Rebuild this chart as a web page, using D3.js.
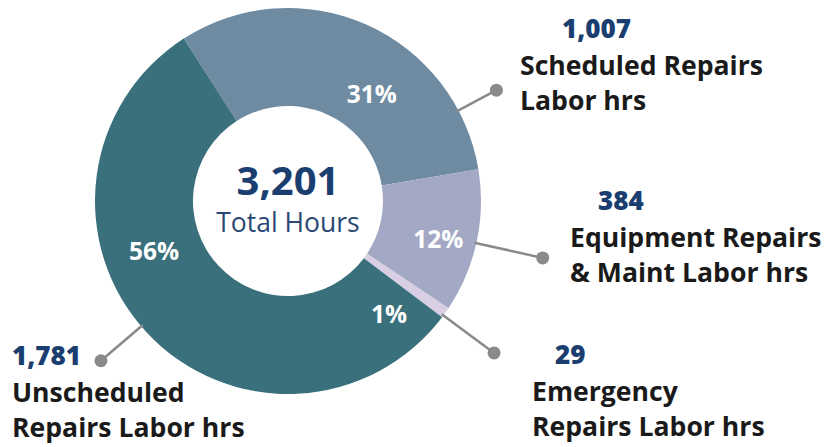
<!DOCTYPE html>
<html>
<head>
	<meta charset="utf-8">
	<title>Labor hours donut</title>
	<style>
		body {
			margin: 0;
			background: #fff;
			font-family: 'Open Sans', sans-serif;
		}
		svg {
			display: block;
		}
	</style>
</head>
<body>
	<svg width="824" height="447"></svg>
<script src="https://d3js.org/d3.v7.min.js"></script>
<script>

	// data
	const categories = ['Scheduled Repairs Labor hrs', 'Equipment Repairs & Maint Labor hrs', 'Emergency Repairs Labor hrs', 'Unscheduled Repairs Labor hrs']
	const hours = [1007, 384, 29, 1781]
	const labelLines = [
		['Scheduled Repairs', 'Labor hrs'],
		['Equipment Repairs', '& Maint Labor hrs'],
		['Emergency', 'Repairs Labor hrs'],
		['Unscheduled', 'Repairs Labor hrs']
	]
	const centerLabel = 'Total Hours'

	// look + placement
	const colors = ['#6f8ba2', '#a3a9c4', '#d8cfe4', '#3a6f7c']
	const navy = '#1b3e70'

	// pct label: angle (deg, clockwise from top) + radius
	// leader: angle + end radius, text block: x, number baseline, number x
	const layout = [
		{ pctAng: 38, pctR: 136, leadAng: 62, leadR: 236, x: 520, y: 38, numX: 562 },
		{ pctAng: 104, pctR: 155, leadAng: 102.6, leadR: 261, x: 570, y: 210, numX: 598 },
		{ pctAng: 138, pctR: 151, leadAng: 126.4, leadR: 256, x: 532, y: 364, numX: 555 },
		{ pctAng: 249.6, pctR: 143, leadAng: 229.5, leadR: 246, x: 12, y: 365, numX: 12 }
	]

	const width = 824
	const height = 447
	const cx = 288
	const cy = 201
	const outerR = 193
	const innerR = 95
	const rad = Math.PI / 180
	const startAng = -32.7 * rad

	let svg = d3.select('svg')

	let total = d3.sum(hours)

	let pie = d3.pie()
		.sort(null)
		.value(d => d)
		.startAngle(startAng)
		.endAngle(startAng + 2 * Math.PI)

	let arc = d3.arc()
		.innerRadius(innerR)
		.outerRadius(outerR)

	let arcs = pie(hours)

	let g = svg.append('g')
		.attr('transform', `translate(${cx},${cy})`)

	// slices
	g.selectAll('.slice')
		.data(arcs)
		.join('path')
		.attr('class', 'slice')
		.attr('d', arc)
		.style('fill', (d, i) => colors[i])

	// polar helper, angle from 12 o'clock clockwise
	let polar = (ang, r) => [Math.sin(ang * rad) * r, -Math.cos(ang * rad) * r]

	// percent labels
	let pct = d3.format('.0%')
	g.selectAll('.pct')
		.data(arcs)
		.join('text')
		.attr('class', 'pct')
		.attr('x', (d, i) => polar(layout[i].pctAng, layout[i].pctR)[0])
		.attr('y', (d, i) => polar(layout[i].pctAng, layout[i].pctR)[1])
		.attr('text-anchor', 'middle')
		.attr('dominant-baseline', 'central')
		.style('fill', '#fff')
		.style('font-weight', 700)
		.style('font-size', '24.5px')
		.text(d => pct(d.value / total))

	// leader lines + dots
	g.selectAll('.leader')
		.data(arcs)
		.join('line')
		.attr('class', 'leader')
		.attr('x1', (d, i) => polar(layout[i].leadAng, outerR - 2)[0])
		.attr('y1', (d, i) => polar(layout[i].leadAng, outerR - 2)[1])
		.attr('x2', (d, i) => polar(layout[i].leadAng, layout[i].leadR)[0])
		.attr('y2', (d, i) => polar(layout[i].leadAng, layout[i].leadR)[1])
		.style('stroke', '#8a8a8a')
		.style('stroke-width', 2.5)

	g.selectAll('.dot')
		.data(arcs)
		.join('circle')
		.attr('class', 'dot')
		.attr('cx', (d, i) => polar(layout[i].leadAng, layout[i].leadR)[0])
		.attr('cy', (d, i) => polar(layout[i].leadAng, layout[i].leadR)[1])
		.attr('r', 6.5)
		.style('fill', '#8a8a8a')

	// center total
	g.append('text')
		.attr('x', 0)
		.attr('y', -6)
		.attr('text-anchor', 'middle')
		.style('fill', navy)
		.style('font-weight', 700)
		.style('font-size', '40px')
		.text(d3.format(',')(total))

	g.append('text')
		.attr('x', 0)
		.attr('y', 31)
		.attr('text-anchor', 'middle')
		.style('fill', '#2a4874')
		.style('font-size', '26.5px')
		.text(centerLabel)

	// outside text blocks
	let blocks = svg.selectAll('.block')
		.data(arcs)
		.join('g')
		.attr('class', 'block')

	blocks.append('text')
		.attr('x', (d, i) => layout[i].numX)
		.attr('y', (d, i) => layout[i].y)
		.style('fill', navy)
		.style('font-weight', 800)
		.style('font-size', '26px')
		.text(d => d3.format(',')(d.value))

	blocks.each(function (d, i) {
		d3.select(this).selectAll('.cat')
			.data(labelLines[i])
			.join('text')
			.attr('class', 'cat')
			.attr('x', layout[i].x)
			.attr('y', (t, j) => layout[i].y + 37 + j * 35)
			.style('fill', '#1a1a1a')
			.style('font-weight', 700)
			.style('font-size', '26.6px')
			.text(t => t)
	})

</script>
</body>
</html>
